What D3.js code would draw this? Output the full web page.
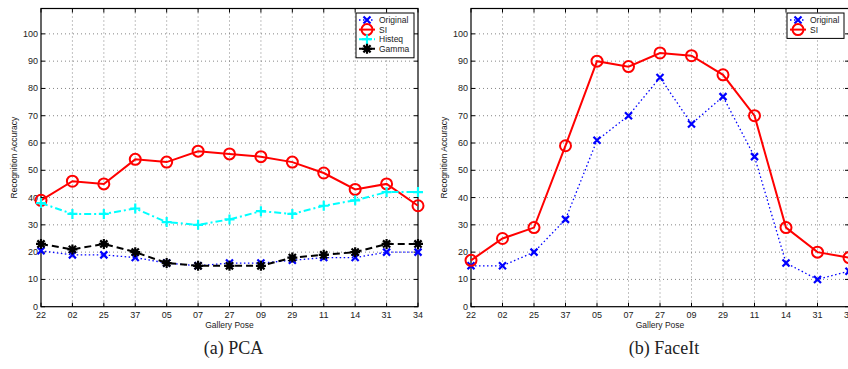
<!DOCTYPE html>
<html>
<head>
<meta charset="utf-8">
<script src="https://cdn.jsdelivr.net/npm/d3@7"></script>
<style>
  body { margin: 0; background: #fff; }
  svg { display: block; }
  text { font-family: "Liberation Sans", Arial, sans-serif; fill: #222; }
</style>
</head>
<body>
<svg id="chart" width="848" height="369"></svg>
<script>
// gallery poses along x
const poses = ['22', '02', '25', '37', '05', '07', '27', '09', '29', '11', '14', '31', '34'];
const yTicks = [0, 10, 20, 30, 40, 50, 60, 70, 80, 90, 100];

// (a) PCA
const pcaOriginal = [20.5, 19, 19, 18, 16, 15, 16, 16, 17, 18, 18, 20, 20];
const pcaSI       = [39, 46, 45, 54, 53, 57, 56, 55, 53, 49, 43, 45, 37];
const pcaHisteq   = [38, 34, 34, 36, 31, 30, 32, 35, 34, 37, 39, 42, 42];
const pcaGamma    = [23, 21, 23, 20, 16, 15, 15, 15, 18, 19, 20, 23, 23];

// (b) FaceIt
const faceOriginal = [15, 15, 20, 32, 61, 70, 84, 67, 77, 55, 16, 10, 13];
const faceSI       = [17, 25, 29, 59, 90, 88, 93, 92, 85, 70, 29, 20, 18];

const styles = {
  Original: { color: '#0000ff', width: 1.3, dash: '1.5,2.5', marker: 'x' },
  SI:       { color: '#ff0000', width: 2,   dash: null,      marker: 'o' },
  Histeq:   { color: '#00ffff', width: 2,   dash: '7,3,2,3', marker: '+' },
  Gamma:    { color: '#000000', width: 2,   dash: '7,4',     marker: '*' }
};

const svg = d3.select('#chart');

function marker(g, type, x, y, color) {
  if (type === 'o') {
    g.append('circle').attr('cx', x).attr('cy', y).attr('r', 5.5)
      .attr('fill', 'none').attr('stroke', color).attr('stroke-width', 2);
  } else if (type === 'x') {
    const s = 3.5;
    g.append('path').attr('d', `M${x - s},${y - s}L${x + s},${y + s}M${x - s},${y + s}L${x + s},${y - s}`)
      .attr('stroke', color).attr('stroke-width', 2.2);
  } else if (type === '+') {
    const s = 5;
    g.append('path').attr('d', `M${x - s},${y}L${x + s},${y}M${x},${y - s}L${x},${y + s}`)
      .attr('stroke', color).attr('stroke-width', 2.2);
  } else if (type === '*') {
    const s = 5, d = 3.6;
    g.append('path').attr('d', `M${x - s},${y}L${x + s},${y}M${x},${y - s}L${x},${y + s}M${x - d},${y - d}L${x + d},${y + d}M${x - d},${y + d}L${x + d},${y - d}`)
      .attr('stroke', color).attr('stroke-width', 2.2);
  }
}

function drawPanel(opts) {
  const { left, right, top, bottom, series, legend, caption } = opts;
  const g = svg.append('g');

  const x = d3.scalePoint().domain(poses).range([left, right]);
  const y = d3.scaleLinear().domain([0, 109.3]).range([bottom, top]);

  // grid
  g.selectAll('.vg').data(poses.slice(1, -1)).enter().append('line')
    .attr('x1', d => x(d)).attr('x2', d => x(d)).attr('y1', top).attr('y2', bottom)
    .attr('stroke', '#666').attr('stroke-width', 0.8).attr('stroke-dasharray', '1,3');
  g.selectAll('.hg').data(yTicks.slice(1)).enter().append('line')
    .attr('x1', left).attr('x2', right).attr('y1', d => y(d)).attr('y2', d => y(d))
    .attr('stroke', '#666').attr('stroke-width', 0.8).attr('stroke-dasharray', '1,3');

  // inward ticks
  g.selectAll('.xt').data(poses).enter().append('path')
    .attr('d', d => `M${x(d)},${bottom}v-4M${x(d)},${top}v4`)
    .attr('stroke', '#000').attr('stroke-width', 1);
  g.selectAll('.yt').data(yTicks).enter().append('path')
    .attr('d', d => `M${left},${y(d)}h4M${right},${y(d)}h-4`)
    .attr('stroke', '#000').attr('stroke-width', 1);

  // box
  g.append('rect').attr('x', left).attr('y', top)
    .attr('width', right - left).attr('height', bottom - top)
    .attr('fill', 'none').attr('stroke', '#000').attr('stroke-width', 1.2);

  // tick labels
  g.selectAll('.xl').data(poses).enter().append('text')
    .attr('x', d => x(d)).attr('y', bottom + 11)
    .attr('text-anchor', 'middle').attr('font-size', 9).text(d => d);
  g.selectAll('.yl').data(yTicks).enter().append('text')
    .attr('x', left - 3).attr('y', d => y(d) + 3)
    .attr('text-anchor', 'end').attr('font-size', 9).text(d => d);

  g.append('text').attr('x', (left + right) / 2).attr('y', bottom + 21)
    .attr('text-anchor', 'middle').attr('font-size', 8.5).text('Gallery Pose');
  g.append('text')
    .attr('transform', `translate(${left - 24},${(top + bottom) / 2}) rotate(-90)`)
    .attr('text-anchor', 'middle').attr('font-size', 8.5).text('Recognition Accuracy');

  // series
  const line = d3.line().x((d, i) => x(poses[i])).y(d => y(d));
  series.forEach(s => {
    const st = styles[s.name];
    g.append('path').datum(s.values).attr('d', line)
      .attr('fill', 'none').attr('stroke', st.color).attr('stroke-width', st.width)
      .attr('stroke-dasharray', st.dash);
    s.values.forEach((v, i) => marker(g, st.marker, x(poses[i]), y(v), st.color));
  });

  // legend
  const lg = g.append('g');
  lg.append('rect').attr('x', legend.x).attr('y', legend.y)
    .attr('width', legend.w).attr('height', 6 + series.length * 9.7)
    .attr('fill', '#fff').attr('stroke', '#000').attr('stroke-width', 1);
  series.forEach((s, i) => {
    const st = styles[s.name];
    const ly = legend.y + 7 + i * 9.6;
    lg.append('line').attr('x1', legend.x + 3).attr('x2', legend.x + 19)
      .attr('y1', ly).attr('y2', ly)
      .attr('stroke', st.color).attr('stroke-width', st.width)
      .attr('stroke-dasharray', st.dash);
    marker(lg, st.marker, legend.x + 11, ly, st.color);
    lg.append('text').attr('x', legend.x + 23).attr('y', ly + 3)
      .attr('font-size', 8.5).text(s.name);
  });

  svg.append('text').attr('x', (left + right) / 2 + 4).attr('y', 354)
    .attr('text-anchor', 'middle')
    .style('font-family', '"Liberation Serif", "DejaVu Serif", serif')
    .attr('font-size', 18).text(caption);
}

drawPanel({
  left: 41, right: 418, top: 8.5, bottom: 306.7,
  series: [
    { name: 'Original', values: pcaOriginal },
    { name: 'SI', values: pcaSI },
    { name: 'Histeq', values: pcaHisteq },
    { name: 'Gamma', values: pcaGamma }
  ],
  legend: { x: 356, y: 13, w: 58 },
  caption: '(a) PCA'
});

drawPanel({
  left: 471, right: 849, top: 8.5, bottom: 306.7,
  series: [
    { name: 'Original', values: faceOriginal },
    { name: 'SI', values: faceSI }
  ],
  legend: { x: 787, y: 13, w: 57 },
  caption: '(b) FaceIt'
});
</script>
</body>
</html>
